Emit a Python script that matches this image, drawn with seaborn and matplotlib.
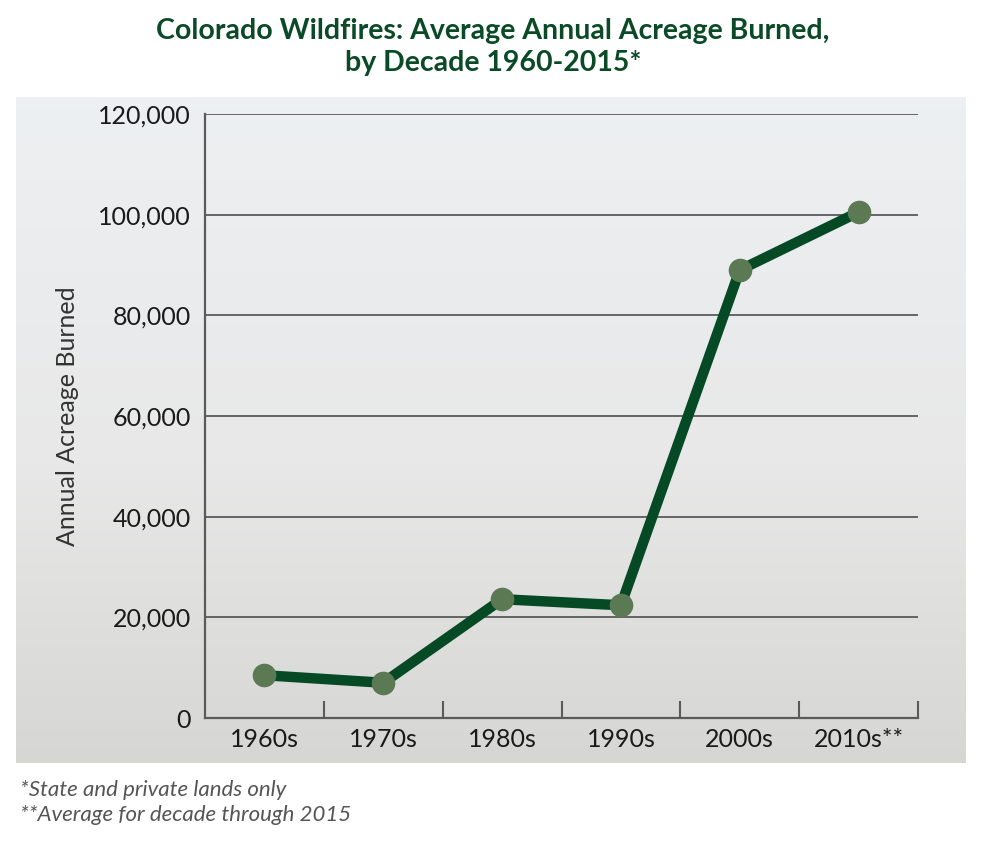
import numpy as np
import pandas as pd
import matplotlib
matplotlib.use("Agg")
import matplotlib.pyplot as plt
from matplotlib.ticker import FuncFormatter, FixedLocator
import seaborn as sns

decades = ["1960s", "1970s", "1980s", "1990s", "2000s", "2010s**"]
acreage = [8500, 7000, 23600, 22400, 89000, 100500]
y_ticks = [0, 20000, 40000, 60000, 80000, 100000, 120000]

sns.set_theme(style="white")
plt.rcParams['font.family'] = ['Lato', 'DejaVu Sans']

W, H = 986, 850
fig = plt.figure(figsize=(W / 100, H / 100), dpi=100)
fig.patch.set_facecolor("white")

# background "photo" approximation: soft gradient panel
bg = fig.add_axes([16 / W, (H - 763) / H, 950 / W, 666 / H])
grad_top = np.array([0.93, 0.94, 0.95])
grad_mid = np.array([0.91, 0.91, 0.91])
grad_bot = np.array([0.84, 0.84, 0.83])
n = 200
t = np.linspace(0, 1, n)[:, None]
col = np.where(t < 0.55, grad_top + (grad_mid - grad_top) * (t / 0.55),
               grad_mid + (grad_bot - grad_mid) * ((t - 0.55) / 0.45))
img = np.repeat(col[:, None, :], 10, axis=1)
bg.imshow(img, aspect="auto", extent=[0, 1, 0, 1])
bg.set_axis_off()

ax = fig.add_axes([205 / W, (H - 718) / H, 713 / W, 604 / H])
ax.patch.set_alpha(0)

df = pd.DataFrame({"decade": decades, "acres": acreage})
sns.lineplot(data=df, x="decade", y="acres", sort=False, ax=ax,
             color="#054a24", linewidth=7.5, marker="o", markersize=17,
             markerfacecolor="#5b7953", markeredgewidth=0, zorder=5)

ax.set_xlim(-0.5, len(decades) - 0.5)
ax.set_ylim(0, 120000)
ax.set_yticks(y_ticks)
ax.yaxis.set_major_formatter(FuncFormatter(lambda v, p: f"{int(v):,}"))
ax.grid(axis="y", color="#5a5a5a", linewidth=1.3)
ax.set_axisbelow(True)

for s in ["top", "right"]:
    ax.spines[s].set_visible(False)
for s in ["left", "bottom"]:
    ax.spines[s].set_color("#5a5a5a")
    ax.spines[s].set_linewidth(1.6)

ax.xaxis.set_minor_locator(FixedLocator(np.arange(0.5, len(decades), 1.0)))
ax.tick_params(axis="x", which="minor", direction="in", length=12, width=1.5,
               color="#5a5a5a", bottom=True)
ax.tick_params(axis="x", which="major", length=0, pad=7, labelsize=18,
               labelcolor="#1a1a1a")
ax.tick_params(axis="y", length=0, pad=10, labelsize=18, labelcolor="#1a1a1a")

ax.set_xlabel("")
ax.set_ylabel("Annual Acreage Burned", fontsize=18, color="#333333", labelpad=14)

fig.text(0.5, 1 - 18 / H, "Colorado Wildfires: Average Annual Acreage Burned,\nby Decade 1960-2015*",
         ha="center", va="top", fontsize=20.5, fontweight="bold", color="#0b4a26",
         linespacing=1.3)

fig.text(20 / W, 1 - 790 / H, "*State and private lands only", ha="left", va="center",
         fontsize=16, style="italic", color="#555555")
fig.text(20 / W, 1 - 815 / H, "**Average for decade through 2015", ha="left", va="center",
         fontsize=16, style="italic", color="#555555")

fig.savefig("out.png", dpi=100)
